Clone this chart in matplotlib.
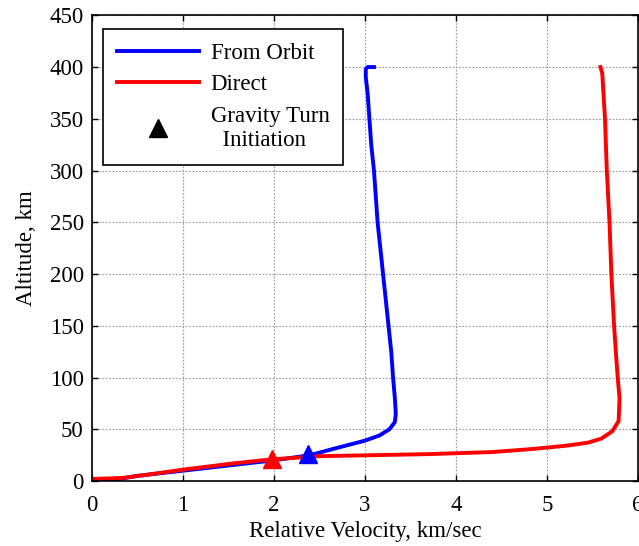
import matplotlib
matplotlib.use("Agg")
import matplotlib.pyplot as plt
from matplotlib.lines import Line2D

# From Orbit trajectory (relative velocity km/s, altitude km)
orbit_v = [0.0, 0.3, 0.5, 1.0, 1.5, 2.0, 2.4, 2.65, 3.0, 3.16, 3.27, 3.33, 3.34,
           3.33, 3.31, 3.29, 3.26, 3.23, 3.20, 3.17, 3.14, 3.12, 3.10, 3.07,
           3.05, 3.03, 3.01, 3.01, 3.03, 3.10]
orbit_h = [2, 2, 5, 10, 15, 20, 25, 31, 39, 44, 50, 57, 65,
           80, 100, 125, 150, 175, 200, 225, 250, 275, 300, 325,
           350, 375, 390, 398, 400, 400]

# Direct trajectory
direct_v = [0.0, 0.34, 0.6, 1.0, 1.55, 1.98, 2.5, 3.7, 4.4, 4.85, 5.2, 5.45,
            5.6, 5.72, 5.79, 5.80, 5.78, 5.76, 5.74, 5.71, 5.69, 5.66, 5.64,
            5.61, 5.59]
direct_h = [2, 3, 6, 11, 17, 21, 24, 26, 28, 31, 34, 37,
            41, 48, 58, 80, 100, 124, 150, 200, 250, 300, 350,
            394, 400]

# Gravity turn initiation points
turn_orbit = (2.38, 26)
turn_direct = (1.98, 21)

x_ticks = [0, 1, 2, 3, 4, 5, 6]
y_ticks = [0, 50, 100, 150, 200, 250, 300, 350, 400, 450]

FS = 16.5
plt.rcParams.update({
    "font.family": ["Liberation Serif", "DejaVu Serif"],
    "font.size": FS,
})

fig = plt.figure(figsize=(6.39, 5.46), dpi=100)
ax = fig.add_axes([0.144, 0.119, 0.854, 0.853])

ax.plot(orbit_v, orbit_h, color="#0000FF", linewidth=2.8)
ax.plot(direct_v, direct_h, color="#FF0000", linewidth=2.8)
ax.plot(*turn_orbit, marker="^", color="#0000FF", markersize=13, linestyle="none")
ax.plot(*turn_direct, marker="^", color="#FF0000", markersize=13, linestyle="none")

ax.set_xlim(0, 6)
ax.set_ylim(0, 450)
ax.set_xticks(x_ticks)
ax.set_yticks(y_ticks)
ax.tick_params(direction="in", length=4, width=1, top=True, right=True,
               labelsize=FS, pad=6)
ax.tick_params(axis="x", pad=10)
ax.grid(True, color="#999999", linestyle=(0, (1.5, 1.5)), linewidth=0.8)
for spine in ax.spines.values():
    spine.set_linewidth(1.2)
    spine.set_color("black")

ax.set_xlabel("Relative Velocity, km/sec", fontsize=FS, labelpad=4)
ax.set_ylabel("Altitude, km", fontsize=FS, labelpad=9)

handles = [
    Line2D([], [], color="#0000FF", linewidth=2.8),
    Line2D([], [], color="#FF0000", linewidth=2.8),
    Line2D([], [], color="black", marker="^", markersize=13, linestyle="none"),
]
labels = ["From Orbit", "Direct", "Gravity Turn\n  Initiation"]
leg = ax.legend(handles, labels, loc="upper left", bbox_to_anchor=(0.02, 0.97),
                borderaxespad=0, fontsize=FS, frameon=True, fancybox=False,
                edgecolor="black", framealpha=1, handlelength=3.6,
                handletextpad=0.5, borderpad=0.6, labelspacing=0.45)
leg.get_frame().set_linewidth(1.2)

fig.savefig("out.png", dpi=100, facecolor="white")
